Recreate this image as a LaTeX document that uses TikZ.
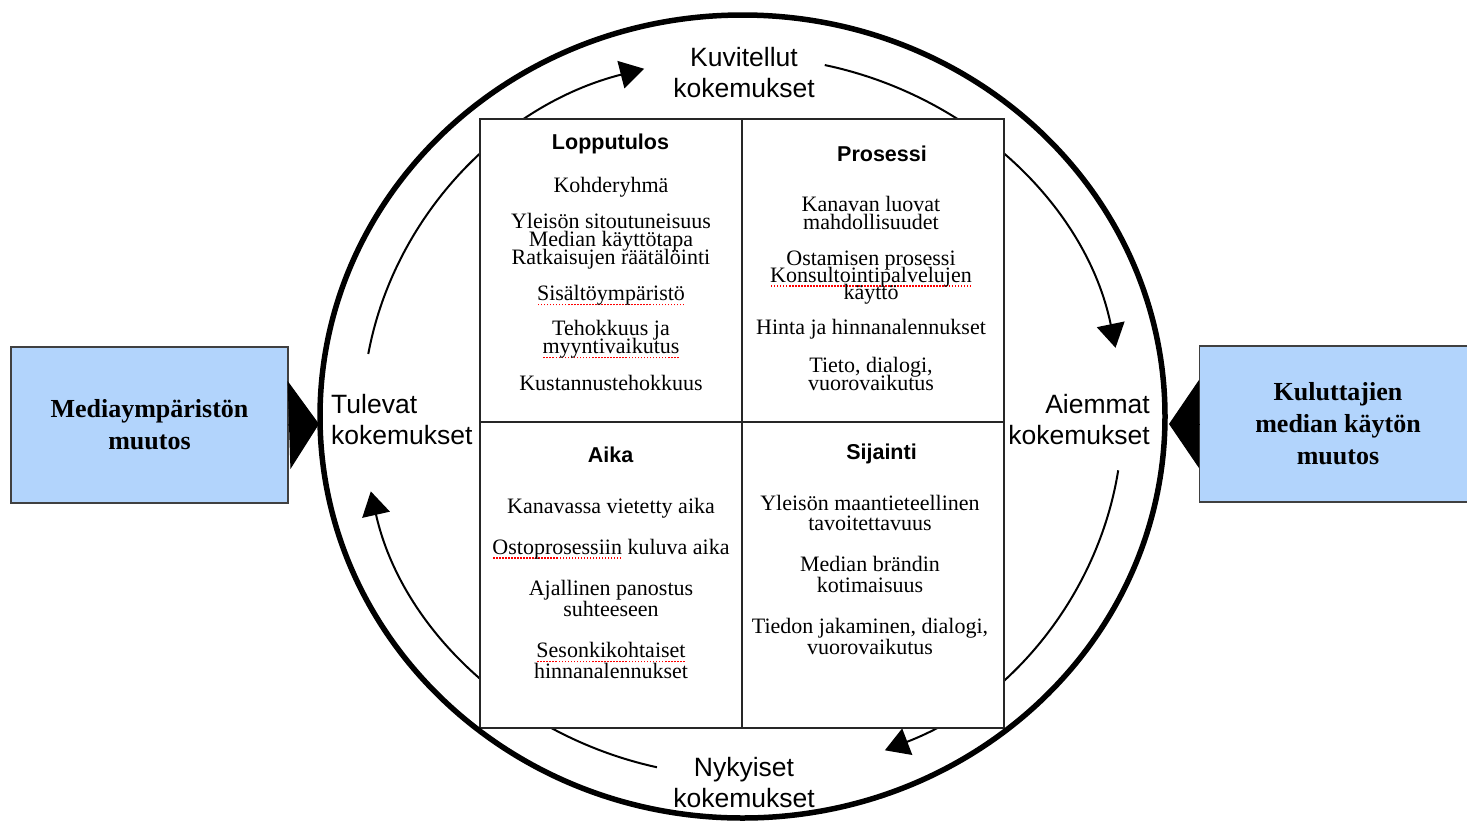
\documentclass[tikz,border=0pt]{standalone}
\usepackage{fontspec}
\setmainfont{Liberation Serif}
\setsansfont{Liberation Sans}
\usetikzlibrary{arrows.meta,calc}

\definecolor{boxblue}{RGB}{178,212,252}
% lines closer than the glyphs allow
\newcommand\tight{\lineskiplimit=-100pt\relax}
% red dotted spell-check underline
\newsavebox\spellbox
\newcommand\spell[1]{\leavevmode\sbox\spellbox{#1}%
  \rlap{\raisebox{-4.5pt}{\textcolor{red}{\hbox to\wd\spellbox{%
    \xleaders\hbox to 3pt{\hss\rule{1.5pt}{1.5pt}\hss}\hfill}}}}\usebox\spellbox}

\begin{document}
\begin{tikzpicture}[x=1pt, y=-1pt,
  % Node styles
  quad/.style={rectangle, draw=black!85, fill=white, line width=1.4pt,
    minimum width=262pt, minimum height=303pt, inner sep=0pt, outer sep=0pt},
  qtitle/.style={font=\sffamily\bfseries\fontsize{21.5}{24}\selectfont, inner sep=0pt},
  item/.style={font=\fontsize{22}{18}\selectfont\tight, align=center, inner sep=0pt},
  itemw/.style={item, font=\fontsize{22}{20.5}\selectfont\tight},
  stage/.style={font=\sffamily\fontsize{26.5}{31}\selectfont, inner sep=0pt},
  sidebox/.style={rectangle, draw=black!75, fill=boxblue, line width=1.4pt,
    minimum width=277pt, minimum height=156pt, outer sep=0pt, align=center,
    font=\bfseries\fontsize{26}{32}\selectfont},
  flow/.style={line width=2pt, -{Triangle[length=24pt, width=28pt]}},
  push/.style={line width=1pt, -{Triangle[length=30pt, width=88pt]}},
  rim/.style={line width=5.5pt},
]
\useasboundingbox (0,0) rectangle (1467,820);

% === Column positions ===
\def\colL{611}
\def\colR{871}

\coordinate (c) at (742.5,416.5);

% === Inner cycle arrows ===
\coordinate (tl) at ($(c)+(190:380 and 360)$);
\coordinate (tr) at ($(c)+(282.5:380 and 360)$);
\coordinate (br) at ($(c)+(8.6:380 and 360)$);
\coordinate (bl) at ($(c)+(103:380 and 360)$);
\draw[flow] (tl) arc[start angle=190, end angle=255, x radius=380, y radius=360];
\draw[flow] (tr) arc[start angle=282.5, end angle=349, x radius=380, y radius=360];
\draw[flow] (br) arc[start angle=8.6, end angle=68, x radius=380, y radius=360];
\draw[flow] (bl) arc[start angle=103, end angle=168, x radius=380, y radius=360];

% === Quadrants ===
\coordinate (mid) at (742,422);
\node[quad, anchor=south east] (q1) at (mid) {};
\node[quad, anchor=south west] (q2) at (mid) {};
\node[quad, anchor=north east, minimum height=306pt] (q3) at (mid) {};
\node[quad, anchor=north west, minimum height=306pt] (q4) at (mid) {};

% === Outer circle ===
\draw[rim] (c) ellipse [x radius=422.5, y radius=401.5];

% === Lopputulos ===
\node[qtitle] (t1) at (610.5,144) {Lopputulos};
\node[item] (a1) at (\colL,187) {Kohderyhmä};
\node[item] (a2) at (\colL,241.5) {Yleisön sitoutuneisuus\\Median käyttötapa\\Ratkaisujen räätälöinti};
\node[item] (a3) at (\colL,295.5) {\spell{Sisältöympäristö}};
\node[item] (a4) at (\colL,339.5) {Tehokkuus ja\\\spell{myyntivaikutus}};
\node[item] (a5) at (\colL,382.5) {Kustannustehokkuus};

% === Prosessi ===
\node[qtitle] (t2) at (882,154) {Prosessi};
\node[item] (b1) at (\colR,212.5) {Kanavan luovat\\mahdollisuudet};
\node[item, font=\fontsize{22}{17}\selectfont\tight] (b2) at (\colR,277.5)
  {Ostamisen prosessi\\\spell{Konsultointipalvelujen}\\käyttö};
\node[item] (b3) at (\colR,329.5) {Hinta ja hinnanalennukset};
\node[item] (b4) at (\colR,374) {Tieto, dialogi,\\vuorovaikutus};

% === Aika ===
\node[qtitle] (t3) at (610.5,455) {Aika};
\node[itemw] (c1) at (\colL,508) {Kanavassa vietetty aika};
\node[itemw] (c2) at (\colL,549) {\spell{Ostoprosessiin} kuluva aika};
\node[itemw] (c3) at (\colL,598.5) {Ajallinen panostus\\suhteeseen};
\node[itemw] (c4) at (\colL,660.5) {\spell{Sesonkikohtaiset}\\hinnanalennukset};

% === Sijainti ===
\node[qtitle] (t4) at (881.5,454) {Sijainti};
\node[itemw] (d1) at (870,513) {Yleisön maantieteellinen\\tavoitettavuus};
\node[itemw] (d2) at (870,574.5) {Median brändin\\kotimaisuus};
\node[itemw] (d3) at (870,636.5) {Tiedon jakaminen, dialogi,\\vuorovaikutus};

% === Experience labels ===
\node[stage, align=center] (imag) at (744,73) {Kuvitellut\\kokemukset};
\node[stage, align=right, anchor=east] (past) at (1150,420) {Aiemmat\\kokemukset};
\node[stage, align=center] (now) at (744,783) {Nykyiset\\kokemukset};
\node[stage, align=left, anchor=west] (future) at (331,420) {Tulevat\\kokemukset};

% === Side boxes ===
\node[sidebox] (media) at (149.5,425) {Mediaympäristön\\muutos};
\node[sidebox] (kulu) at (1338,424) {Kuluttajien\\median käytön\\muutos};

\coordinate (lhit) at (319,424);
\coordinate (rhit) at (1169,424);
\draw[push] (media.east) -- (lhit);
\draw[push] (kulu.west) -- (rhit);

\end{tikzpicture}
\end{document}
